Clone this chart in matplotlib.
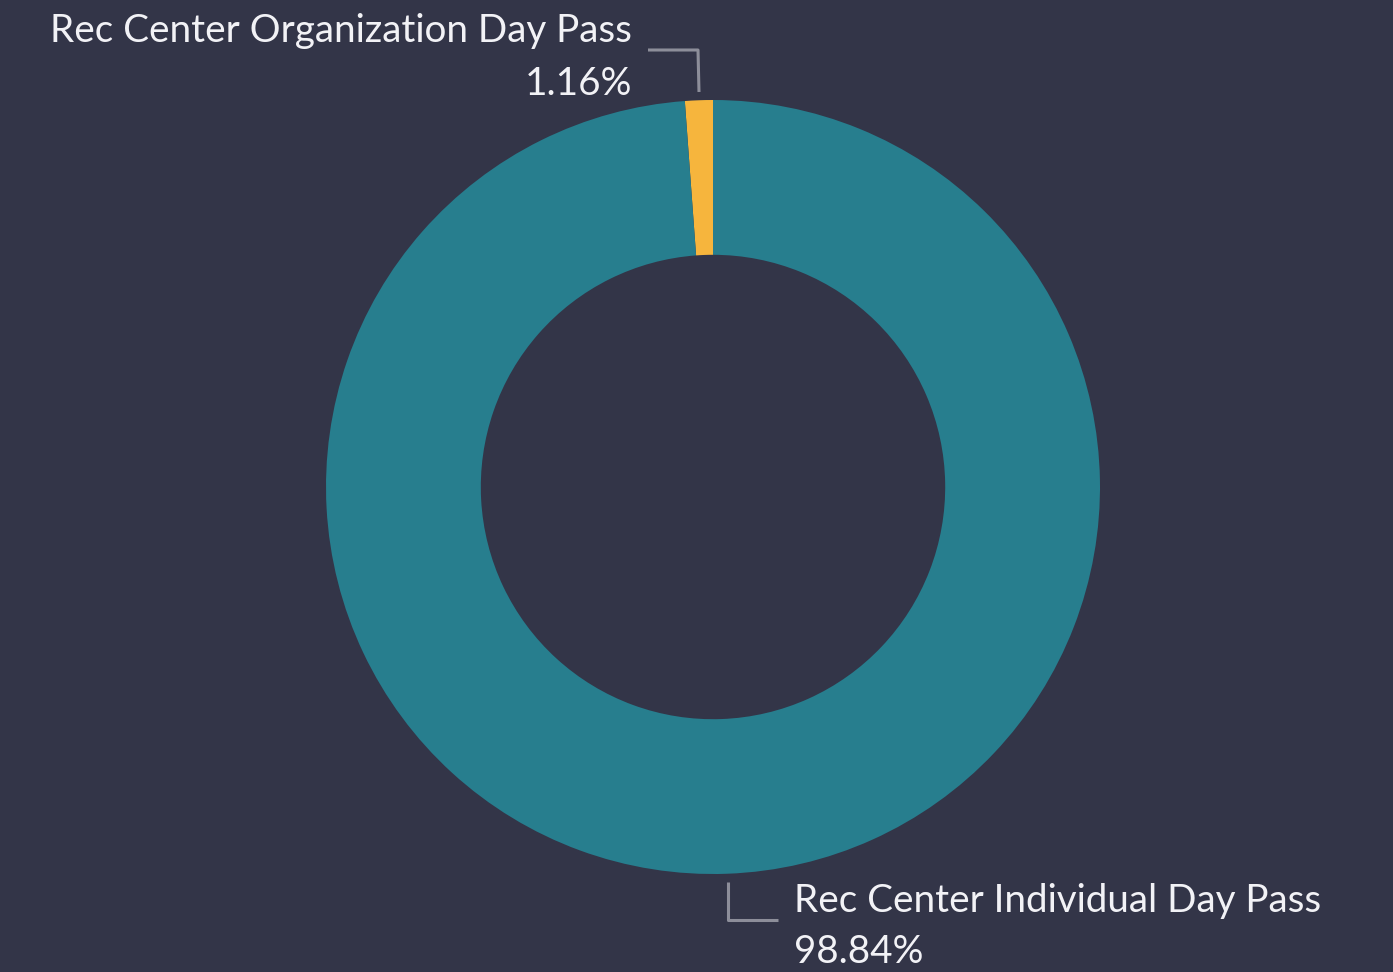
import matplotlib.pyplot as plt

labels = ["Rec Center Organization Day Pass", "Rec Center Individual Day Pass"]
shares = [1.16, 98.84]
colors = ["#F6B53D", "#277E8E"]

BG = "#333548"
W, H = 1393, 972

plt.rcParams["font.family"] = ["Lato", "DejaVu Sans"]

fig = plt.figure(figsize=(W / 100, H / 100), dpi=100)
fig.patch.set_facecolor(BG)
ax = fig.add_axes([0, 0, 1, 1])
ax.set_facecolor(BG)

# donut, first slice goes counter-clockwise from 12 o'clock
ax.pie(shares, colors=colors, startangle=90, counterclock=True,
       center=(713, H - 487), radius=387,
       wedgeprops=dict(width=387 * 0.4, linewidth=0))
ax.set_xlim(0, W)
ax.set_ylim(0, H)
ax.set_aspect("equal")
ax.axis("off")

line_kw = dict(color="#8D8E9A", lw=2.2, solid_capstyle="butt")
txt_kw = dict(color="#F2F2F6", fontsize=27.8)

# top label (small slice)
ax.plot([648, 698, 699], [H - 50, H - 50, H - 92], **line_kw)
ax.text(632, H - 42, labels[0], ha="right", va="baseline", **txt_kw)
ax.text(632, H - 95, f"{shares[0]:.2f}%", ha="right", va="baseline", **txt_kw)

# bottom label (big slice)
ax.plot([728, 728, 778], [H - 882, H - 920, H - 920], **line_kw)
ax.text(794, H - 912, labels[1], ha="left", va="baseline", **txt_kw)
ax.text(794, H - 963, f"{shares[1]:.2f}%", ha="left", va="baseline", **txt_kw)

fig.savefig("out.png", dpi=100, facecolor=BG)
